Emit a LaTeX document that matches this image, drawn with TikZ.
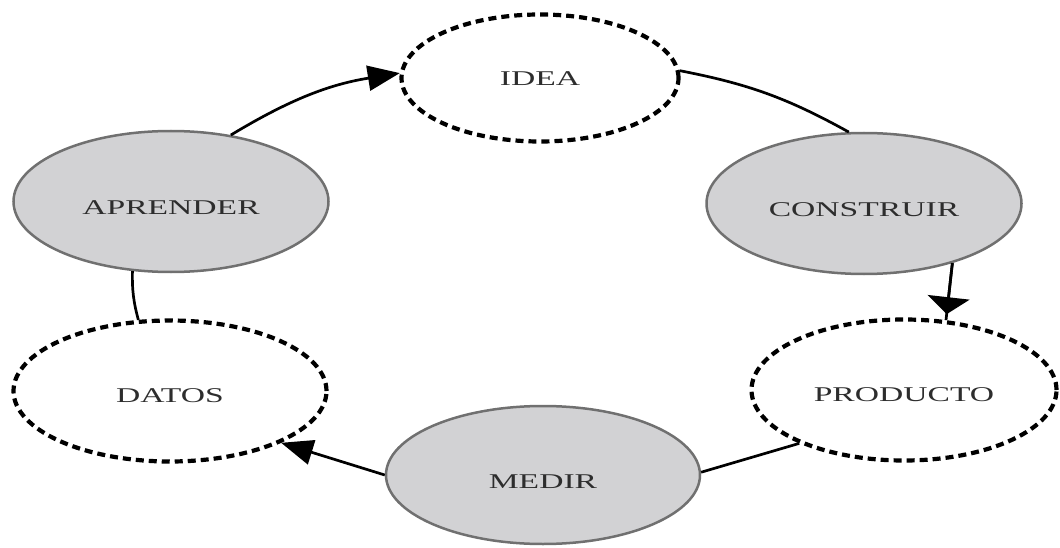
\documentclass[tikz,border=0pt]{standalone}
\usepackage{fontspec}
\setmainfont{Liberation Serif}
\usetikzlibrary{shapes.geometric,arrows.meta}
\definecolor{fillc}{RGB}{210,210,212}
\definecolor{edgec}{RGB}{112,112,112}
\definecolor{txtc}{RGB}{45,45,45}
\newcommand{\lbl}[2]{\raisebox{-#1}[\height][\depth]{\scalebox{1.6}[1]{#2}}}
\begin{document}
\begin{tikzpicture}[x=1pt,y=1pt,
  base/.style={ellipse, inner sep=0pt, font=\fontsize{21}{24}\selectfont, text=txtc},
  solidnode/.style={base, draw=edgec, line width=2.5pt, fill=fillc},
  dashnode/.style={base, draw=black, line width=4.2pt, dash pattern=on 8pt off 5pt},
  conn/.style={line width=2.7pt, black},
  bigtip/.style={-{Triangle[length=32pt,width=25pt]}},
  flattip/.style={-{Triangle[length=17pt,width=42pt]}}]
\useasboundingbox (0,0) rectangle (1060,-548);
\node[dashnode, minimum width=277pt, minimum height=127pt] (idea) at (540,-78) {\lbl{1pt}{IDEA}};
\node[solidnode, minimum width=315pt, minimum height=141pt] (construir) at (864,-203.5) {\lbl{6pt}{CONSTRUIR}};
\node[dashnode, minimum width=305pt, minimum height=141pt] (producto) at (904,-390) {\lbl{4.5pt}{PRODUCTO}};
\node[solidnode, minimum width=314pt, minimum height=138pt] (medir) at (543,-475) {\lbl{7pt}{MEDIR}};
\node[dashnode, minimum width=313pt, minimum height=141pt] (datos) at (170,-391) {\lbl{4.5pt}{DATOS}};
\node[solidnode, minimum width=315pt, minimum height=141pt] (aprender) at (171,-201.5) {\lbl{6pt}{APRENDER}};
\draw[conn, bigtip] (aprender.48) to[bend left=11] (idea.178);
\draw[conn] (idea.3) to[bend left=9] (construir.102);
\draw[conn] (construir.-34) -- (producto.59);
\draw[conn, flattip, shorten >=6pt] (construir.-34) -- (producto.59);
\draw[conn] (producto.207) -- (medir.1);
\draw[conn, bigtip] (medir.180) -- (datos.-25);
\draw[conn] (datos.114) to[bend left=8] (aprender.241);
\end{tikzpicture}
\end{document}
